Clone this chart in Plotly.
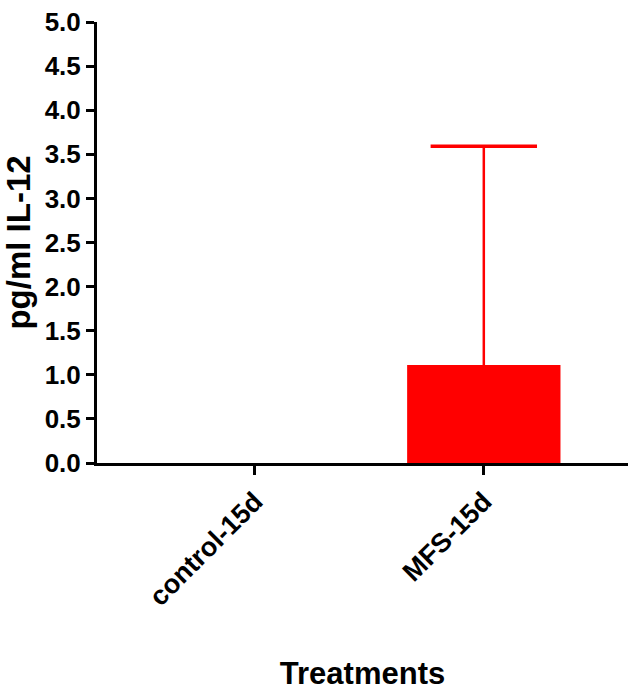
import plotly.graph_objects as go

categories = ["control-15d", "MFS-15d"]
means = [0.0, 1.11]
errors_up = [0.0, 2.48]
y_ticks = [0.0, 0.5, 1.0, 1.5, 2.0, 2.5, 3.0, 3.5, 4.0, 4.5, 5.0]

RED = "#ff0000"
FONT = "Arial, Liberation Sans, sans-serif"
xs = list(range(len(categories)))

fig = go.Figure()
fig.add_trace(go.Bar(
    x=xs, y=means, width=0.67,
    marker=dict(color=RED, line=dict(width=0)),
))
# upward-only SD error bars (stem + cap), drawn from the data
for xi, m, e in zip(xs, means, errors_up):
    if e <= 0:
        continue
    fig.add_trace(go.Scatter(
        x=[xi, xi], y=[m, m + e], mode="lines",
        line=dict(color=RED, width=2.5), hoverinfo="skip",
    ))
    fig.add_trace(go.Scatter(
        x=[xi], y=[m + e], mode="markers",
        marker=dict(symbol="line-ew", size=76, line=dict(color=RED, width=3.5)),
        hoverinfo="skip",
    ))

fig.update_layout(
    width=628, height=693,
    margin=dict(l=97, r=0, t=22, b=230),
    plot_bgcolor="white", paper_bgcolor="white",
    showlegend=False,
    font=dict(family=FONT, color="black"),
)
fig.update_yaxes(
    range=[0, 5.0], tickvals=y_ticks, ticktext=[f"{v:.1f}" for v in y_ticks],
    showgrid=False, zeroline=False, showline=True, linecolor="black", linewidth=3,
    ticks="outside", ticklen=8, tickwidth=2.5, tickcolor="black",
    tickfont=dict(size=26, family=FONT, weight="bold"),
    title=dict(text="pg/ml IL-12", font=dict(size=33, family=FONT, weight="bold"), standoff=14),
)
fig.update_xaxes(
    range=[-0.69, 1.63], tickvals=xs, ticktext=categories, tickangle=-45,
    showgrid=False, zeroline=False, showline=True, linecolor="black", linewidth=3,
    ticks="outside", ticklen=9, tickwidth=3, tickcolor="black",
    tickfont=dict(size=27, family=FONT, weight="bold"),
    title=dict(text="Treatments", font=dict(size=31, family=FONT, weight="bold"), standoff=52),
)
fig.write_html("out.html")
